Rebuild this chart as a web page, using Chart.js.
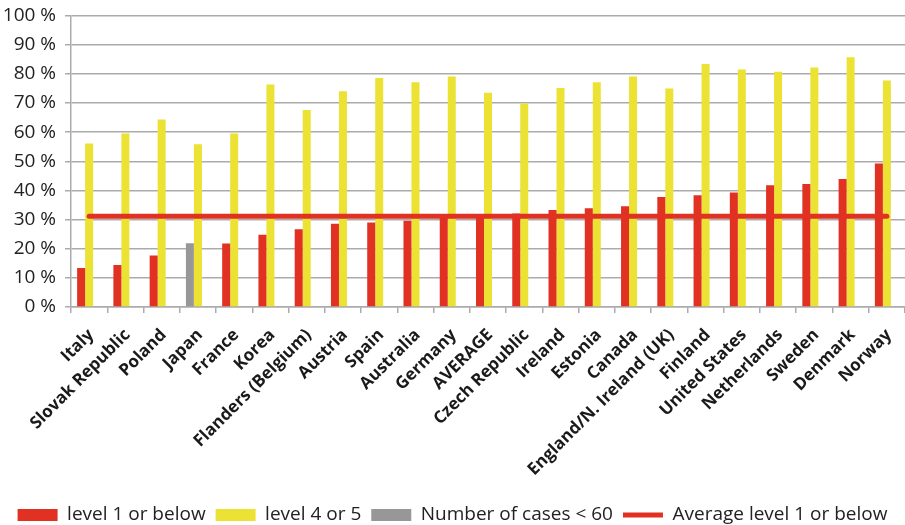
<!DOCTYPE html>
<html>
<head>
<meta charset="utf-8">
<script src="https://cdn.jsdelivr.net/npm/chart.js@4/dist/chart.umd.min.js"></script>
<style>
  html, body { margin: 0; padding: 0; background: #ffffff; }
  #wrap { width: 905px; height: 525px; }
</style>
</head>
<body>
<div id="wrap"><canvas id="chart" width="905" height="525"></canvas></div>
<script>
// Share of adults at each proficiency level, by country (%)
const countries = [
  'Italy', 'Slovak Republic', 'Poland', 'Japan', 'France', 'Korea',
  'Flanders (Belgium)', 'Austria', 'Spain', 'Australia', 'Germany', 'AVERAGE',
  'Czech Republic', 'Ireland', 'Estonia', 'Canada', 'England/N. Ireland (UK)',
  'Finland', 'United States', 'Netherlands', 'Sweden', 'Denmark', 'Norway'
];
const level1OrBelow = [
  13.4, 14.4, 17.7, null, 21.8, 24.8, 26.7, 28.6, 29.0, 29.6, 31.0, 31.1,
  32.1, 33.3, 33.9, 34.6, 37.7, 38.3, 39.3, 41.8, 42.2, 43.9, 49.2
];
const level4Or5 = [
  56.1, 59.5, 64.3, 55.8, 59.5, 76.3, 67.6, 74.0, 78.6, 77.1, 79.1, 73.5,
  69.8, 75.1, 77.1, 79.1, 75.0, 83.4, 81.5, 80.7, 82.2, 85.7, 77.7
];
// level 1 or below where fewer than 60 cases were observed
const fewCases = [
  null, null, null, 21.9, null, null, null, null, null, null, null, null,
  null, null, null, null, null, null, null, null, null, null, null
];
const averageLevel1 = 31.1;
const yTickLabels = ['0 %', '10 %', '20 %', '30 %', '40 %', '50 %', '60 %', '70 %', '80 %', '90 %', '100 %'];

const RED = '#e03122';
const YELLOW = '#ebe233';
const GREY = '#979797';
const GRID = '#ababab';
const FONT = "'Open Sans', 'DejaVu Sans', sans-serif";

new Chart(document.getElementById('chart'), {
  type: 'bar',
  data: {
    labels: countries,
    datasets: [
      { label: 'level 1 or below', data: level1OrBelow, backgroundColor: RED, stack: 'low', order: 1, pointStyle: 'rect' },
      { label: 'level 4 or 5', data: level4Or5, backgroundColor: YELLOW, stack: 'high', order: 1, pointStyle: 'rect' },
      { label: 'Number of cases < 60', data: fewCases, backgroundColor: GREY, stack: 'low', order: 1, pointStyle: 'rect' },
      // empty third slot: keeps each pair of bars left of the category centre
      { label: '', data: [], backgroundColor: 'rgba(0,0,0,0)', stack: 'pad', order: 1 },
      {
        type: 'line', label: 'Average level 1 or below',
        data: countries.map(() => averageLevel1),
        borderColor: RED, backgroundColor: RED, borderWidth: 5,
        borderCapStyle: 'round', pointRadius: 0, pointStyle: 'line',
        order: -1
      }
    ]
  },
  options: {
    responsive: false,
    animation: false,
    devicePixelRatio: 1,
    categoryPercentage: 0.662,
    barPercentage: 1.0,
    layout: { padding: { top: 15.5, right: 0, left: 0, bottom: -9.5 } },
    plugins: {
      tooltip: { enabled: false },
      legend: {
        position: 'bottom',
        labels: {
          usePointStyle: true,
          pointStyleWidth: 40,
          boxHeight: 12,
          padding: 10,
          color: '#222222',
          font: { family: FONT, size: 19 },
          filter: (item) => item.text !== '',
          sort: (a, b) => a.datasetIndex - b.datasetIndex
        }
      }
    },
    scales: {
      x: {
        grid: { drawOnChartArea: false, drawTicks: true, tickLength: 6, color: GRID, lineWidth: 1.5 },
        border: { color: GRID, width: 1.5 },
        ticks: {
          autoSkip: false, minRotation: 45, maxRotation: 45, padding: 12, labelOffset: 2,
          color: '#1a1a1a', font: { family: FONT, size: 17, weight: 'bold' }
        },
        afterFit: (scale) => {
          scale.height = 188.5;
          // plot runs to the right edge; rotated labels hang to the lower left
          scale.paddingLeft = 0;
          scale.paddingRight = 0;
        }
      },
      y: {
        min: 0, max: 100,
        grid: { color: GRID, lineWidth: 1.5, tickLength: 6 },
        border: { color: GRID, width: 1.5 },
        ticks: {
          stepSize: 10, padding: 9, color: '#222222',
          font: { family: FONT, size: 19 },
          callback: (value) => yTickLabels[Math.round(value / 10)]
        },
        afterFit: (scale) => {
          scale.width = 71;
          // the top label may overhang the plot; the layout padding covers it
          scale.paddingTop = 0;
          scale.paddingBottom = 0;
        }
      }
    }
  }
});
</script>
</body>
</html>
